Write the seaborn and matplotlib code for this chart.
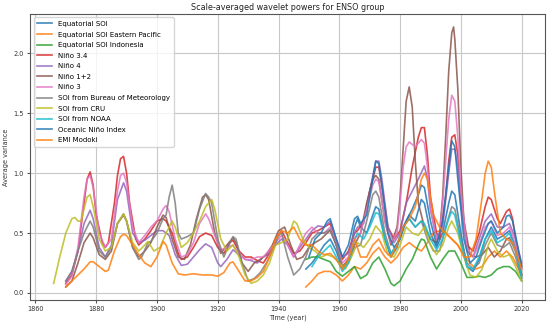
import matplotlib
matplotlib.use("Agg")
import matplotlib.pyplot as plt
import seaborn as sns
import pandas as pd

# ---------------- data ----------------
eq_soi_years = [1949, 1951, 1953, 1955, 1957, 1959, 1961, 1963, 1965, 1966, 1967, 1969, 1971, 1972, 1973, 1975, 1977, 1979, 1981, 1983, 1985, 1987, 1988, 1990, 1992, 1994, 1996, 1997, 1998, 2000, 2002, 2004, 2006, 2008, 2010, 2012, 2014, 2016, 2018, 2020]
eq_soi_vals = [0.2, 0.25, 0.32, 0.4, 0.45, 0.35, 0.2, 0.28, 0.55, 0.62, 0.55, 0.5, 0.65, 0.72, 0.7, 0.45, 0.3, 0.38, 0.55, 0.65, 0.6, 0.78, 0.75, 0.5, 0.38, 0.5, 0.75, 0.85, 0.82, 0.5, 0.22, 0.18, 0.28, 0.45, 0.55, 0.45, 0.48, 0.52, 0.38, 0.15]

eq_ep_years = [1949, 1951, 1953, 1955, 1957, 1959, 1961, 1963, 1965, 1967, 1969, 1971, 1973, 1975, 1977, 1979, 1981, 1983, 1985, 1987, 1989, 1991, 1993, 1995, 1997, 1999, 2001, 2003, 2005, 2007, 2009, 2011, 2013, 2015, 2017, 2019, 2020]
eq_ep_vals = [0.05, 0.1, 0.16, 0.18, 0.18, 0.15, 0.1, 0.15, 0.22, 0.2, 0.25, 0.33, 0.38, 0.3, 0.25, 0.3, 0.38, 0.42, 0.38, 0.35, 0.42, 0.5, 0.52, 0.5, 0.45, 0.4, 0.32, 0.25, 0.2, 0.22, 0.3, 0.35, 0.3, 0.35, 0.3, 0.2, 0.15]

eq_indo_years = [1949, 1951, 1953, 1955, 1957, 1959, 1961, 1963, 1965, 1967, 1969, 1971, 1973, 1975, 1977, 1978, 1980, 1982, 1984, 1986, 1987, 1988, 1990, 1992, 1994, 1996, 1998, 2000, 2002, 2004, 2006, 2008, 2010, 2012, 2014, 2016, 2018, 2020]
eq_indo_vals = [0.28, 0.3, 0.3, 0.28, 0.26, 0.18, 0.14, 0.18, 0.22, 0.12, 0.15, 0.25, 0.3, 0.2, 0.08, 0.06, 0.1, 0.2, 0.28, 0.4, 0.45, 0.44, 0.3, 0.2, 0.28, 0.35, 0.35, 0.25, 0.13, 0.13, 0.14, 0.13, 0.15, 0.2, 0.22, 0.22, 0.18, 0.1]

nino34_years = [1870, 1872, 1874, 1876, 1877, 1878, 1879, 1880, 1882, 1883, 1884, 1886, 1887, 1888, 1889, 1890, 1891, 1893, 1894, 1896, 1898, 1900, 1902, 1903, 1905, 1907, 1908, 1910, 1912, 1914, 1916, 1918, 1920, 1922, 1924, 1925, 1927, 1929, 1931, 1933, 1935, 1937, 1939, 1941, 1943, 1945, 1947, 1949, 1951, 1953, 1955, 1957, 1959, 1961, 1963, 1965, 1966, 1968, 1970, 1972, 1973, 1974, 1976, 1978, 1980, 1982, 1984, 1986, 1987, 1988, 1989, 1990, 1992, 1993, 1995, 1996, 1997, 1998, 1999, 2000, 2002, 2004, 2006, 2008, 2009, 2010, 2012, 2013, 2015, 2016, 2017, 2018, 2020]
nino34_vals = [0.08, 0.15, 0.35, 0.75, 0.95, 1.01, 0.9, 0.65, 0.42, 0.38, 0.42, 0.75, 0.98, 1.12, 1.14, 1.0, 0.75, 0.45, 0.4, 0.45, 0.52, 0.6, 0.62, 0.6, 0.5, 0.33, 0.28, 0.3, 0.38, 0.47, 0.5, 0.48, 0.38, 0.33, 0.42, 0.44, 0.35, 0.3, 0.3, 0.27, 0.25, 0.33, 0.45, 0.52, 0.42, 0.33, 0.35, 0.42, 0.5, 0.52, 0.55, 0.58, 0.4, 0.28, 0.35, 0.5, 0.52, 0.6, 0.85, 1.05, 1.05, 0.9, 0.55, 0.45, 0.52, 0.75, 1.05, 1.3, 1.38, 1.38, 1.15, 0.8, 0.5, 0.45, 0.8, 1.1, 1.3, 1.32, 1.15, 0.8, 0.4, 0.35, 0.5, 0.72, 0.8, 0.78, 0.62, 0.58, 0.68, 0.7, 0.62, 0.45, 0.22]

nino4_years = [1870, 1872, 1874, 1876, 1878, 1879, 1881, 1883, 1885, 1887, 1889, 1890, 1892, 1894, 1896, 1898, 1900, 1902, 1904, 1906, 1908, 1910, 1912, 1914, 1916, 1918, 1920, 1921, 1923, 1925, 1927, 1929, 1931, 1933, 1935, 1937, 1939, 1941, 1943, 1945, 1947, 1949, 1951, 1953, 1955, 1957, 1959, 1961, 1963, 1965, 1966, 1968, 1970, 1972, 1973, 1974, 1976, 1978, 1980, 1982, 1984, 1986, 1988, 1989, 1990, 1992, 1994, 1996, 1997, 1998, 1999, 2000, 2002, 2004, 2006, 2008, 2010, 2012, 2014, 2016, 2018, 2020]
nino4_vals = [0.1, 0.18, 0.35, 0.58, 0.69, 0.62, 0.38, 0.3, 0.4, 0.78, 0.92, 0.85, 0.5, 0.42, 0.44, 0.48, 0.52, 0.52, 0.48, 0.32, 0.23, 0.24, 0.3, 0.36, 0.41, 0.38, 0.25, 0.22, 0.28, 0.36, 0.32, 0.28, 0.27, 0.25, 0.3, 0.33, 0.4, 0.45, 0.4, 0.3, 0.38, 0.45, 0.52, 0.56, 0.55, 0.6, 0.45, 0.3, 0.33, 0.5, 0.55, 0.58, 0.85, 1.1, 1.1, 0.95, 0.55, 0.42, 0.5, 0.75, 0.85, 0.95, 1.06, 0.95, 0.7, 0.45, 0.55, 1.0, 1.2, 1.2, 1.05, 0.75, 0.35, 0.3, 0.45, 0.6, 0.66, 0.55, 0.55, 0.58, 0.45, 0.25]

nino12_years = [1870, 1872, 1874, 1876, 1878, 1879, 1881, 1883, 1885, 1887, 1889, 1890, 1892, 1894, 1896, 1898, 1900, 1902, 1903, 1905, 1907, 1909, 1911, 1913, 1915, 1916, 1917, 1919, 1921, 1923, 1925, 1926, 1928, 1930, 1932, 1934, 1936, 1938, 1940, 1942, 1944, 1946, 1948, 1950, 1952, 1954, 1956, 1957, 1959, 1961, 1963, 1965, 1967, 1969, 1971, 1972, 1973, 1975, 1977, 1979, 1980, 1981, 1982, 1983, 1984, 1985, 1986, 1988, 1990, 1992, 1993, 1994, 1995, 1996, 1997, 1997.6, 1998, 1999, 2000, 2001, 2003, 2005, 2007, 2009, 2011, 2013, 2015, 2016, 2018, 2020]
nino12_vals = [0.05, 0.1, 0.25, 0.42, 0.5, 0.46, 0.32, 0.28, 0.35, 0.58, 0.65, 0.6, 0.38, 0.3, 0.35, 0.42, 0.55, 0.65, 0.63, 0.45, 0.3, 0.28, 0.4, 0.62, 0.8, 0.82, 0.78, 0.5, 0.33, 0.4, 0.46, 0.42, 0.25, 0.18, 0.25, 0.28, 0.32, 0.4, 0.52, 0.55, 0.4, 0.28, 0.3, 0.38, 0.42, 0.45, 0.5, 0.52, 0.4, 0.22, 0.28, 0.4, 0.5, 0.75, 0.95, 0.98, 0.95, 0.6, 0.4, 0.55, 0.8, 1.2, 1.6, 1.72, 1.55, 1.1, 0.75, 0.55, 0.45, 0.42, 0.5, 0.8, 1.3, 1.85, 2.17, 2.22, 2.12, 1.7, 1.05, 0.6, 0.32, 0.3, 0.32, 0.38, 0.3, 0.35, 0.45, 0.46, 0.35, 0.15]

nino3_years = [1870, 1872, 1874, 1876, 1877, 1878, 1879, 1881, 1883, 1885, 1887, 1888, 1889, 1890, 1892, 1894, 1896, 1898, 1900, 1902, 1903, 1904, 1906, 1908, 1910, 1912, 1914, 1916, 1917, 1919, 1921, 1923, 1925, 1927, 1929, 1931, 1933, 1935, 1937, 1939, 1941, 1943, 1945, 1947, 1949, 1951, 1953, 1955, 1957, 1959, 1961, 1963, 1965, 1967, 1969, 1971, 1972, 1973, 1975, 1977, 1979, 1980, 1981, 1982, 1983, 1984, 1985, 1986, 1987, 1988, 1989, 1990, 1992, 1993, 1994, 1995, 1996, 1997, 1998, 1999, 2000, 2002, 2004, 2006, 2008, 2010, 2012, 2014, 2016, 2018, 2020]
nino3_vals = [0.07, 0.14, 0.38, 0.8, 0.95, 0.98, 0.88, 0.5, 0.38, 0.45, 0.85, 0.98, 1.0, 0.92, 0.55, 0.42, 0.48, 0.55, 0.6, 0.7, 0.73, 0.68, 0.45, 0.3, 0.32, 0.42, 0.58, 0.66, 0.62, 0.48, 0.36, 0.38, 0.4, 0.33, 0.28, 0.28, 0.3, 0.3, 0.36, 0.42, 0.48, 0.4, 0.3, 0.4, 0.5, 0.55, 0.5, 0.5, 0.55, 0.42, 0.25, 0.3, 0.45, 0.5, 0.7, 0.9, 0.95, 0.93, 0.6, 0.42, 0.5, 0.75, 1.05, 1.22, 1.26, 1.24, 1.22, 1.25, 1.28, 1.25, 1.05, 0.7, 0.45, 0.5, 0.75, 1.1, 1.45, 1.65, 1.6, 1.3, 0.85, 0.38, 0.3, 0.4, 0.55, 0.6, 0.48, 0.5, 0.55, 0.4, 0.2]

bom_years = [1870, 1872, 1874, 1876, 1878, 1879, 1881, 1883, 1885, 1887, 1889, 1890, 1892, 1894, 1895, 1897, 1898, 1900, 1902, 1903, 1904, 1905, 1906, 1907, 1908, 1910, 1912, 1914, 1916, 1917, 1918, 1920, 1922, 1924, 1925, 1926, 1928, 1930, 1932, 1934, 1936, 1938, 1940, 1941, 1943, 1945, 1947, 1949, 1951, 1953, 1955, 1957, 1959, 1961, 1963, 1965, 1967, 1969, 1971, 1972, 1973, 1975, 1977, 1979, 1981, 1983, 1985, 1987, 1989, 1991, 1993, 1995, 1997, 1998, 2000, 2002, 2004, 2006, 2008, 2010, 2012, 2014, 2016, 2018, 2020]
bom_vals = [0.1, 0.18, 0.35, 0.5, 0.6, 0.55, 0.35, 0.3, 0.38, 0.58, 0.66, 0.6, 0.38, 0.28, 0.3, 0.42, 0.43, 0.5, 0.62, 0.65, 0.8, 0.9, 0.75, 0.5, 0.45, 0.47, 0.5, 0.7, 0.83, 0.8, 0.75, 0.45, 0.3, 0.42, 0.47, 0.45, 0.25, 0.1, 0.12, 0.17, 0.25, 0.35, 0.48, 0.5, 0.3, 0.15, 0.2, 0.3, 0.45, 0.5, 0.5, 0.53, 0.4, 0.22, 0.25, 0.38, 0.4, 0.6, 0.82, 0.85, 0.8, 0.5, 0.33, 0.4, 0.55, 0.62, 0.55, 0.6, 0.45, 0.35, 0.35, 0.55, 0.72, 0.7, 0.45, 0.25, 0.2, 0.25, 0.4, 0.5, 0.4, 0.38, 0.42, 0.3, 0.12]

cru_years = [1866, 1868, 1870, 1872, 1873, 1874, 1875, 1876, 1877, 1878, 1879, 1881, 1883, 1885, 1887, 1889, 1890, 1892, 1894, 1896, 1897, 1899, 1901, 1903, 1905, 1906, 1908, 1910, 1912, 1914, 1916, 1918, 1919, 1921, 1923, 1925, 1927, 1929, 1931, 1933, 1935, 1937, 1939, 1941, 1943, 1945, 1946, 1948, 1950, 1952, 1954, 1956, 1958, 1960, 1962, 1964, 1966, 1968, 1970, 1972, 1974, 1976, 1978, 1980, 1982, 1984, 1986, 1988, 1990, 1992, 1994, 1996, 1997, 1999, 2001, 2003, 2005, 2007, 2009, 2010, 2012, 2014, 2016, 2018, 2020]
cru_vals = [0.08, 0.3, 0.5, 0.62, 0.63, 0.6, 0.6, 0.7, 0.8, 0.82, 0.72, 0.45, 0.35, 0.38, 0.58, 0.66, 0.6, 0.42, 0.35, 0.4, 0.43, 0.35, 0.38, 0.5, 0.6, 0.55, 0.38, 0.42, 0.5, 0.6, 0.72, 0.78, 0.7, 0.45, 0.35, 0.4, 0.3, 0.15, 0.08, 0.1, 0.15, 0.25, 0.4, 0.42, 0.45, 0.6, 0.58, 0.45, 0.38, 0.35, 0.3, 0.32, 0.3, 0.25, 0.2, 0.3, 0.42, 0.38, 0.45, 0.56, 0.5, 0.32, 0.3, 0.4, 0.55, 0.5, 0.48, 0.55, 0.4, 0.32, 0.4, 0.55, 0.6, 0.5, 0.3, 0.15, 0.13, 0.2, 0.4, 0.45, 0.35, 0.3, 0.32, 0.22, 0.1]

noaa_years = [1951, 1953, 1955, 1957, 1959, 1961, 1963, 1965, 1966, 1968, 1970, 1972, 1973, 1975, 1977, 1979, 1981, 1983, 1985, 1987, 1988, 1990, 1992, 1994, 1996, 1997, 1998, 2000, 2002, 2004, 2006, 2008, 2010, 2012, 2014, 2016, 2018, 2020]
noaa_vals = [0.22, 0.3, 0.35, 0.4, 0.3, 0.18, 0.25, 0.45, 0.5, 0.45, 0.55, 0.67, 0.66, 0.45, 0.33, 0.4, 0.55, 0.62, 0.55, 0.6, 0.58, 0.45, 0.36, 0.45, 0.62, 0.68, 0.65, 0.42, 0.22, 0.2, 0.3, 0.45, 0.52, 0.42, 0.45, 0.5, 0.35, 0.13]

oni_years = [1950, 1952, 1954, 1956, 1957, 1959, 1961, 1963, 1965, 1966, 1967, 1969, 1971, 1972, 1973, 1974, 1976, 1978, 1980, 1982, 1984, 1986, 1987, 1988, 1990, 1992, 1994, 1996, 1997, 1998, 1999, 2001, 2003, 2005, 2007, 2009, 2010, 2012, 2014, 2015, 2016, 2017, 2018, 2020]
oni_vals = [0.3, 0.45, 0.5, 0.6, 0.62, 0.45, 0.3, 0.4, 0.62, 0.64, 0.58, 0.65, 0.95, 1.1, 1.08, 0.9, 0.5, 0.38, 0.45, 0.6, 0.7, 0.82, 0.9, 0.88, 0.6, 0.4, 0.6, 1.05, 1.27, 1.22, 0.95, 0.45, 0.25, 0.3, 0.45, 0.58, 0.6, 0.5, 0.55, 0.64, 0.65, 0.6, 0.48, 0.22]

emi_years = [1870, 1872, 1874, 1876, 1878, 1879, 1881, 1883, 1884, 1886, 1888, 1889, 1890, 1892, 1894, 1896, 1898, 1900, 1902, 1903, 1905, 1907, 1909, 1912, 1915, 1918, 1920, 1922, 1924, 1925, 1927, 1929, 1931, 1933, 1935, 1937, 1939, 1941, 1943, 1945, 1947, 1949, 1951, 1953, 1955, 1957, 1959, 1961, 1963, 1965, 1967, 1969, 1971, 1973, 1975, 1977, 1979, 1981, 1983, 1985, 1987, 1988, 1989, 1991, 1993, 1995, 1997, 1999, 2001, 2003, 2005, 2007, 2008, 2009, 2010, 2011, 2013, 2015, 2017, 2018, 2020]
emi_vals = [0.05, 0.1, 0.15, 0.2, 0.26, 0.26, 0.22, 0.18, 0.19, 0.35, 0.47, 0.49, 0.48, 0.4, 0.32, 0.25, 0.22, 0.3, 0.43, 0.4, 0.25, 0.16, 0.15, 0.16, 0.15, 0.15, 0.14, 0.17, 0.25, 0.26, 0.18, 0.1, 0.1, 0.13, 0.18, 0.3, 0.45, 0.52, 0.5, 0.55, 0.45, 0.4, 0.4, 0.35, 0.32, 0.33, 0.28, 0.2, 0.28, 0.45, 0.3, 0.3, 0.4, 0.45, 0.35, 0.3, 0.4, 0.55, 0.62, 0.72, 0.95, 1.0, 0.95, 0.65, 0.55, 0.5, 0.45, 0.4, 0.3, 0.3, 0.45, 0.8, 1.0, 1.1, 1.05, 0.85, 0.5, 0.45, 0.42, 0.35, 0.2]

series_names = ["Equatorial SOI", "Equatorial SOI Eastern Pacific", "Equatorial SOI Indonesia",
                "Niño 3.4", "Niño 4", "Niño 1+2", "Niño 3", "SOI from Bureau of Meteorology",
                "SOI from CRU", "SOI from NOAA", "Oceanic Niño Index", "EMI Modoki"]
series_data = [(eq_soi_years, eq_soi_vals), (eq_ep_years, eq_ep_vals), (eq_indo_years, eq_indo_vals),
               (nino34_years, nino34_vals), (nino4_years, nino4_vals), (nino12_years, nino12_vals),
               (nino3_years, nino3_vals), (bom_years, bom_vals), (cru_years, cru_vals),
               (noaa_years, noaa_vals), (oni_years, oni_vals), (emi_years, emi_vals)]

x_ticks = [1860, 1880, 1900, 1920, 1940, 1960, 1980, 2000, 2020]
y_ticks = [0.0, 0.5, 1.0, 1.5, 2.0]

# ---------------- plot ----------------
palette = sns.color_palette("tab10", 10)
fig = plt.figure(figsize=(5.5, 3.25), dpi=100)
ax = fig.add_axes([0.055, 0.077, 0.936, 0.88])

for i, (name, (yrs, vals)) in enumerate(zip(series_names, series_data)):
    df = pd.DataFrame({"year": yrs, "value": vals})
    sns.lineplot(data=df, x="year", y="value", ax=ax, color=palette[i % 10],
                 label=name, linewidth=1.2, alpha=0.85)

ax.set_xticks(x_ticks)
ax.set_yticks(y_ticks)
ax.tick_params(labelsize=4.7, length=2.5, pad=2, color="#555555", labelcolor="#333333")
ax.grid(True, color="#c8c8c8", linewidth=0.8)
ax.set_axisbelow(True)
for s in ax.spines.values():
    s.set_color("#555555")
ax.set_title("Scale-averaged wavelet powers for ENSO group", fontsize=5.8, color="#222222", pad=3)
ax.set_xlabel("Time (year)", fontsize=4.7, color="#333333", labelpad=1.5)
ax.set_ylabel("Average variance", fontsize=4.7, color="#333333", labelpad=3)
ax.legend(loc="upper left", fontsize=5, frameon=True, framealpha=0.8,
          handlelength=2.2, labelspacing=0.66, borderpad=0.5, handletextpad=0.8)

fig.savefig("out.png", dpi=100)
